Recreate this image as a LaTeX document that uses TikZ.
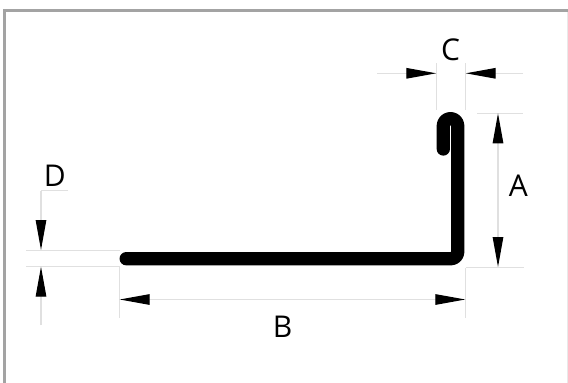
\documentclass[tikz,border=0pt]{standalone}
\usepackage{fontspec}
\setmainfont{Open Sans}
\usetikzlibrary{arrows.meta}
\definecolor{framegray}{HTML}{A3A3A3}
\definecolor{dimgray}{HTML}{E0E0E0}
\tikzset{
  frameline/.style={draw=framegray,line width=3pt},
  sideline/.style={draw=dimgray!70,line width=1pt},
  extline/.style={draw=dimgray,line width=1pt},
  dimline/.style={draw=dimgray,line width=1.2pt,-{Triangle[length=30pt,width=10.5pt,color=black,fill=black]}},
  profile/.style={draw=black,line width=13.3pt,line cap=round,line join=round},
  dimlabel/.style={inner sep=0pt,font=\fontsize{30}{30}\selectfont,text=black}
}
\begin{document}
\begin{tikzpicture}[x=1pt,y=-1pt]
\useasboundingbox (0,0) rectangle (568,383);
\fill[white] (0,0) rectangle (568,383);
% frame
\draw[sideline] (567,12) -- (567,383);
\draw[frameline] (4.5,383) -- (4.5,10.5) -- (568,10.5);
% extension lines
\draw[extline] (436.3,63) -- (436.3,110);
\draw[extline] (465.7,63) -- (465.7,110);
\draw[extline] (477,113) -- (523,113);
\draw[extline] (466,267.3) -- (524,267.3);
\draw[extline] (119.5,267) -- (119.5,318);
\draw[extline] (465.5,268) -- (465.5,318);
\draw[extline] (26,250) -- (120,250);
\draw[extline] (26,266.3) -- (120,266.3);
% dimension anchors
\coordinate (cLfree) at (377,73.3);
\coordinate (cLtip) at (436.3,73.3);
\coordinate (cRfree) at (523,73.3);
\coordinate (cRtip) at (465.7,73.3);
\coordinate (aT) at (498,113.3);
\coordinate (aB) at (498,267);
\coordinate (aM) at (498,190);
\coordinate (bL) at (119.7,299.5);
\coordinate (bR) at (465.3,299.5);
\coordinate (bM) at (292,299.5);
\coordinate (dCorner) at (41,190.5);
\coordinate (dEnd) at (68,190.5);
\coordinate (dTip) at (41,250);
\coordinate (dLow) at (41,325);
\coordinate (dLowTip) at (41,266.7);
% dimensions
\draw[dimline] (cLfree) -- (cLtip);
\draw[dimline] (cRfree) -- (cRtip);
\draw[dimline] (aM) -- (aT);
\draw[dimline] (aM) -- (aB);
\draw[dimline] (bM) -- (bL);
\draw[dimline] (bM) -- (bR);
\draw[extline] (dEnd) -- (dCorner);
\draw[dimline] (dCorner) -- (dTip);
\draw[dimline] (dLow) -- (dLowTip);
% profile
\draw[profile] (126.2,258.7) -- (451,258.7)
  .. controls (454.7,258.7) and (457.7,255.7) .. (457.7,252)
  -- (457.7,125.8)
  .. controls (457.7,121.8) and (454.5,118.6) .. (450.5,118.6)
  .. controls (446.5,118.6) and (443.3,121.8) .. (443.3,125.8)
  -- (443.3,149);
% labels
\node[dimlabel] (C) at (450.5,50) {C};
\node[dimlabel] (A) at (518.3,186) {A};
\node[dimlabel] (B) at (282.5,326.5) {B};
\node[dimlabel] (D) at (54.7,175.5) {D};
\end{tikzpicture}
\end{document}
